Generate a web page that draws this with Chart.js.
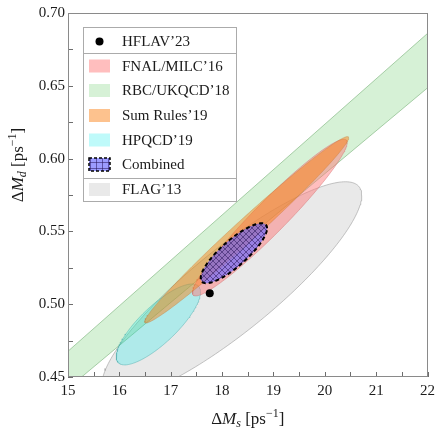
<!DOCTYPE html>
<html lang="en">
<head>
<meta charset="UTF-8" />
<title>ΔMs – ΔMd</title>
<script src="https://cdn.jsdelivr.net/npm/chart.js"></script>
<style>
  html, body { margin: 0; padding: 0; background: #fff; }
</style>
</head>
<body>
<canvas id="mixChart" width="440" height="428"></canvas>

<script>
  // axis ticks
  const msTicks = [15, 16, 17, 18, 19, 20, 21, 22];
  const mdTicks = [0.45, 0.50, 0.55, 0.60, 0.65, 0.70];

  // legend entries, top to bottom
  const legendLabels = ['HFLAV’23', 'FNAL/MILC’16', 'RBC/UKQCD’18', 'Sum Rules’19', 'HPQCD’19', 'Combined', 'FLAG’13'];

  // measured point (ΔMs, ΔMd)
  const hflavMs = [17.76];
  const hflavMd = [0.5075];

  // RBC/UKQCD band: ΔMd / ΔMs ratio, low and high edge
  const rbcRatio = [0.02948, 0.03118];

  // error ellipses: centre, half extent on each axis, correlation
  const ellLabels = ['FLAG’13', 'FNAL/MILC’16', 'Sum Rules’19', 'HPQCD’19', 'Combined'];
  const ellMs     = [18.19, 18.93, 18.48, 16.76, 18.23];
  const ellMd     = [0.5098, 0.5595, 0.5511, 0.4861, 0.5350];
  const ellSigMs  = [2.53, 1.506, 1.986, 0.82, 0.646];
  const ellSigMd  = [0.0743, 0.0538, 0.0640, 0.0278, 0.0206];
  const ellRho    = [0.874, 0.958, 0.987, 0.80, 0.831];

  const SERIF = '"Liberation Serif", "DejaVu Serif", serif';
  const INK = '#1b1b1b';

  function ellipse(i) {
    const pts = [];
    const s = Math.sqrt(1 - ellRho[i] * ellRho[i]);
    for (let k = 0; k <= 200; k++) {
      const t = k / 200 * 2 * Math.PI;
      pts.push({
        x: ellMs[i] + ellSigMs[i] * Math.cos(t),
        y: ellMd[i] + ellSigMd[i] * (ellRho[i] * Math.cos(t) + s * Math.sin(t))
      });
    }
    return pts;
  }

  function band() {
    const a = msTicks[0] - 1, b = msTicks[msTicks.length - 1] + 1;
    return [
      { x: a, y: rbcRatio[0] * a }, { x: b, y: rbcRatio[0] * b },
      { x: b, y: rbcRatio[1] * b }, { x: a, y: rbcRatio[1] * a },
      { x: a, y: rbcRatio[0] * a }
    ];
  }

  function hatch(diagonal) {
    const c = document.createElement('canvas');
    c.width = 6; c.height = 6;
    const g = c.getContext('2d');
    g.fillStyle = 'rgba(95,95,255,0.62)';
    g.fillRect(0, 0, 6, 6);
    g.strokeStyle = 'rgba(40,20,90,0.6)';
    g.lineWidth = 0.9;
    g.beginPath();
    if (diagonal) {
      g.moveTo(-1, -1); g.lineTo(7, 7);
      g.moveTo(7, -1); g.lineTo(-1, 7);
    } else {
      g.moveTo(0.5, 0); g.lineTo(0.5, 6);
      g.moveTo(0, 0.5); g.lineTo(6, 0.5);
    }
    g.stroke();
    return g.createPattern(c, 'repeat');
  }

  const fills = {
    'FLAG’13':      ['rgba(200,200,200,0.40)', 'rgba(150,150,150,0.55)'],
    'RBC/UKQCD’18': ['rgba(120,210,120,0.30)', 'rgba(110,170,110,0.55)'],
    'FNAL/MILC’16': ['rgba(255,120,120,0.48)', 'rgba(210,110,110,0.45)'],
    'HPQCD’19':     ['rgba(0,235,235,0.25)',   'rgba(70,170,170,0.45)'],
    'Sum Rules’19': ['rgba(250,125,15,0.47)',  'rgba(190,120,60,0.35)']
  };
  const drawOrder = ['FLAG’13', 'RBC/UKQCD’18', 'HPQCD’19', 'FNAL/MILC’16', 'Sum Rules’19', 'Combined', 'HFLAV’23'];

  const datasets = [];
  ellLabels.forEach((lab, i) => {
    const combined = lab === 'Combined';
    datasets.push({
      label: lab,
      data: ellipse(i),
      showLine: true,
      fill: 'shape',
      backgroundColor: combined ? hatch(true) : fills[lab][0],
      borderColor: combined ? '#000' : fills[lab][1],
      borderWidth: combined ? 2 : 1,
      borderDash: combined ? [4, 3] : [],
      pointRadius: 0,
      tension: 0,
      order: drawOrder.length - drawOrder.indexOf(lab)
    });
  });
  datasets.push({
    label: 'RBC/UKQCD’18',
    data: band(),
    showLine: true,
    fill: 'shape',
    backgroundColor: fills['RBC/UKQCD’18'][0],
    borderColor: fills['RBC/UKQCD’18'][1],
    borderWidth: 1,
    pointRadius: 0,
    tension: 0,
    order: drawOrder.length - drawOrder.indexOf('RBC/UKQCD’18')
  });
  datasets.push({
    label: 'HFLAV’23',
    data: hflavMs.map((x, i) => ({ x: x, y: hflavMd[i] })),
    pointRadius: 4,
    pointBackgroundColor: '#000',
    pointBorderWidth: 0,
    order: 0
  });

  // inward ticks + frame
  const framePlugin = {
    id: 'frame',
    afterDatasetsDraw(chart) {
      const { ctx, chartArea: a, scales: { x, y } } = chart;
      ctx.save();
      ctx.strokeStyle = '#6d6d6d';
      ctx.lineWidth = 1;
      ctx.beginPath();
      for (let v = msTicks[0]; v <= msTicks[msTicks.length - 1] + 1e-9; v += 0.5) {
        const px = Math.round(x.getPixelForValue(v)) + 0.5;
        ctx.moveTo(px, a.bottom); ctx.lineTo(px, a.bottom - 5);
      }
      for (let v = mdTicks[0]; v <= mdTicks[mdTicks.length - 1] + 1e-9; v += 0.025) {
        const py = Math.round(y.getPixelForValue(v)) + 0.5;
        ctx.moveTo(a.left, py); ctx.lineTo(a.left + 5, py);
      }
      ctx.stroke();
      ctx.strokeStyle = '#8a8a8a';
      ctx.strokeRect(Math.round(a.left) + 0.5, Math.round(a.top) + 0.5,
        Math.round(a.right - a.left) - 1, Math.round(a.bottom - a.top) - 1);
      ctx.restore();
    }
  };

  function mathText(ctx, parts, cx, cy) {
    let w = 0;
    parts.forEach(p => { ctx.font = p.f; w += ctx.measureText(p.t).width; });
    let xx = cx - w / 2;
    ctx.textAlign = 'left';
    ctx.textBaseline = 'alphabetic';
    parts.forEach(p => {
      ctx.font = p.f;
      ctx.fillText(p.t, xx, cy + (p.dy || 0));
      xx += ctx.measureText(p.t).width;
    });
  }

  function axisTitle(sub) {
    return [
      { t: 'Δ', f: '17px ' + SERIF },
      { t: 'M', f: 'italic 17px ' + SERIF },
      { t: sub, f: 'italic 12px ' + SERIF, dy: 3 },
      { t: ' [ps', f: '17px ' + SERIF },
      { t: '−1', f: '12px ' + SERIF, dy: -7 },
      { t: ']', f: '17px ' + SERIF }
    ];
  }

  const titlePlugin = {
    id: 'titles',
    afterDraw(chart) {
      const { ctx, chartArea: a } = chart;
      ctx.save();
      ctx.fillStyle = INK;
      mathText(ctx, axisTitle('s'), (a.left + a.right) / 2, 424);
      ctx.translate(23, 165);
      ctx.rotate(-Math.PI / 2);
      mathText(ctx, axisTitle('d'), 0, 0);
      ctx.restore();
    }
  };

  const legendPlugin = {
    id: 'boxLegend',
    afterDraw(chart) {
      const { ctx } = chart;
      const left = 83.5, right = 236.5, top = 27.5, bottom = 201.5;
      const rows = [41.5, 66, 90.5, 115.5, 140, 164.5, 189.5];
      ctx.save();
      ctx.fillStyle = '#fff';
      ctx.fillRect(left, top, right - left, bottom - top);
      ctx.strokeStyle = '#ababab';
      ctx.lineWidth = 1;
      ctx.strokeRect(left, top, right - left, bottom - top);
      ctx.beginPath();
      ctx.moveTo(left, 53.5); ctx.lineTo(right, 53.5);
      ctx.moveTo(left, 178.5); ctx.lineTo(right, 178.5);
      ctx.stroke();
      legendLabels.forEach((lab, i) => {
        const ry = rows[i];
        if (lab === 'HFLAV’23') {
          ctx.fillStyle = '#000';
          ctx.beginPath(); ctx.arc(99.5, ry, 4, 0, 2 * Math.PI); ctx.fill();
        } else if (lab === 'Combined') {
          ctx.fillStyle = hatch(false);
          ctx.fillRect(89, ry - 6.5, 21, 13);
          ctx.setLineDash([3, 2]);
          ctx.strokeStyle = '#000';
          ctx.lineWidth = 1.5;
          ctx.strokeRect(89, ry - 6.5, 21, 13);
          ctx.setLineDash([]);
        } else {
          ctx.fillStyle = fills[lab][0];
          ctx.fillRect(89, ry - 6.5, 21, 13);
        }
        ctx.fillStyle = INK;
        ctx.font = '15px ' + SERIF;
        ctx.textAlign = 'left';
        ctx.textBaseline = 'middle';
        ctx.fillText(lab, 122, ry + 1);
      });
      ctx.restore();
    }
  };

  new Chart(document.getElementById('mixChart'), {
    type: 'scatter',
    data: { datasets: datasets },
    options: {
      responsive: false,
      animation: false,
      events: [],
      layout: { padding: { top: 13, right: 8, left: 0, bottom: 0 } },
      plugins: { legend: { display: false }, tooltip: { enabled: false } },
      scales: {
        x: {
          type: 'linear',
          min: msTicks[0],
          max: msTicks[msTicks.length - 1],
          afterBuildTicks: s => { s.ticks = msTicks.map(v => ({ value: v })); },
          afterFit: s => { s.height = 51; },
          grid: { display: false, drawTicks: false },
          border: { display: false },
          ticks: { color: INK, padding: 5, maxRotation: 0, font: { family: SERIF, size: 15 } }
        },
        y: {
          type: 'linear',
          min: mdTicks[0],
          max: mdTicks[mdTicks.length - 1],
          afterBuildTicks: s => { s.ticks = mdTicks.map(v => ({ value: v })); },
          afterFit: s => { s.width = 68; },
          grid: { display: false, drawTicks: false },
          border: { display: false },
          ticks: { color: INK, padding: 3, font: { family: SERIF, size: 15 }, callback: v => v.toFixed(2) }
        }
      }
    },
    plugins: [framePlugin, titlePlugin, legendPlugin]
  });
</script>
</body>
</html>
